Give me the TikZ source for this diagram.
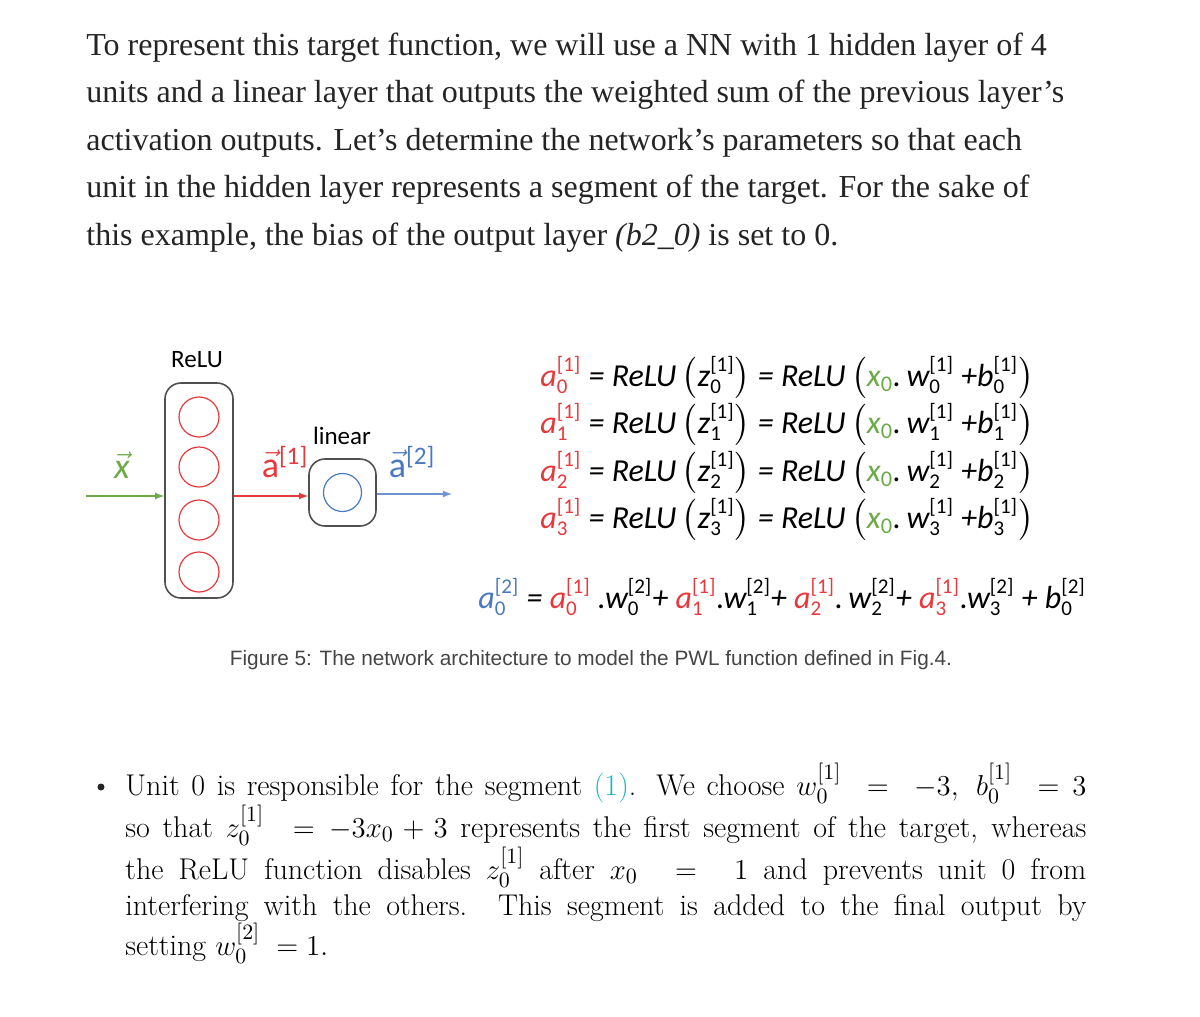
\documentclass[tikz,border=0pt]{standalone}
\usepackage{amsmath}
\usepackage{fontspec}
\newfontfamily\calf{Carlito}
\newfontfamily\bodyf{Liberation Serif}
\newfontfamily\capf{Liberation Sans}
\definecolor{rd}{HTML}{E8383B}
\definecolor{gn}{HTML}{6BAA45}
\definecolor{bl}{HTML}{4A78C2}
\definecolor{tx}{HTML}{242424}
\definecolor{cy}{HTML}{1BB3C4}
\newcommand\SB[2]{${}^{\hbox{\fontsize{10.5}{10}\selectfont\upshape[#1]}}_{\hbox{\fontsize{10.5}{10}\selectfont\upshape #2}}$}
\begin{document}
\begin{tikzpicture}[x=0.5pt,y=-0.5pt,
 para/.style={anchor=base west,inner sep=0,text=tx,font=\bodyf\fontsize{16}{18}\selectfont},
 eq/.style={anchor=base west,inner sep=0,font=\calf\itshape\fontsize{16}{18}\selectfont},
 lab/.style={inner sep=0,font=\calf\fontsize{12.5}{14}\selectfont},
 bul/.style={anchor=base west,inner sep=0,font=\fontsize{15}{17}\selectfont}]
\useasboundingbox (0,0) rectangle (1200,1017);
\node[para] (p1) at (86,55) {To represent this target function, we will use a NN with 1 hidden layer of 4};
\node[para] (p2) at (86,102) {units and a linear layer that outputs the weighted sum of the previous layer’s};
\node[para] (p3) at (86,150) {activation outputs. Let’s determine the network’s parameters so that each};
\node[para] (p4) at (86,197) {unit in the hidden layer represents a segment of the target. For the sake of};
\node[para] (p5) at (86,245) {this example, the bias of the output layer \textit{(b2\_0)} is set to 0.};
% diagram
\node[lab] (relu) at (197,360) {ReLU};
\node[draw=tx!80,rounded corners=8pt,line width=0.8pt,minimum width=34pt,minimum height=107.5pt,inner sep=0] (hb) at (199,490.5) {};
\foreach \i/\yy in {0/417,1/467,2/520,3/572}
  \node[circle,draw=rd,line width=0.6pt,minimum size=20pt,inner sep=0] (u\i) at (199,\yy) {};
\node[draw=tx!80,rounded corners=8pt,line width=0.8pt,minimum size=33.5pt,inner sep=0] (lb) at (342.5,492.5) {};
\node[circle,draw=bl,line width=0.6pt,minimum size=19pt,inner sep=0] (lo) at (342.5,492.5) {};
\node[lab] (lin) at (342,436) {linear};
\coordinate (xin) at (86,496);
\coordinate (aout) at (452,494);
\draw[gn,-latex,line width=0.6pt] (xin) -- (hb.west|-xin);
\draw[rd,-latex,line width=0.6pt] (hb.east|-xin) -- (lb.west|-xin);
\draw[bl!80,-latex,line width=0.6pt] (lb.east|-aout) -- (aout);
\node[lab,text=gn,font=\calf\fontsize{18}{18}\selectfont] (xl) at (122,465) {$\vec{\hbox{\calf\itshape x}}$};
\node[lab,text=rd,font=\calf\fontsize{18}{18}\selectfont] (a1) at (285,462) {$\vec{\hbox{\calf a}}$\textsuperscript{[1]}};
\node[lab,text=bl,font=\calf\fontsize{18}{18}\selectfont] (a2) at (412,462) {$\vec{\hbox{\calf a}}$\textsuperscript{[2]}};
% equations
\foreach \i/\yy in {0/386,1/433,2/481,3/528}
  \node[eq] (e\i) at (540,\yy) {\textcolor{rd}{a\SB{1}{\i}} = ReLU\,$\bigl($z\SB{1}{\i}$\bigr)$ = ReLU\,$\bigl($\textcolor{gn}{x\textsubscript{\upshape 0}}.\,w\SB{1}{\i} +b\SB{1}{\i}$\bigr)$};
\node[eq] (e4) at (478,608) {\textcolor{bl}{a\SB{2}{0}} = \textcolor{rd}{a\SB{1}{0}} .w\SB{2}{0}+ \textcolor{rd}{a\SB{1}{1}}.w\SB{2}{1}+ \textcolor{rd}{a\SB{1}{2}}.\,w\SB{2}{2}+ \textcolor{rd}{a\SB{1}{3}}.w\SB{2}{3} + b\SB{2}{0}};
\node[inner sep=0,text=tx!85,font=\capf\fontsize{10.4}{12}\selectfont] (cap) at (591,660) {Figure 5: The network architecture to model the PWL function defined in Fig.4.};
% bullet
\node[circle,fill=tx,inner sep=0,minimum size=3.5pt] (dot) at (101,787) {};
\node[bul] (b1) at (125,795) {\hbox to 480.5pt{Unit 0 is responsible for the segment \textcolor{cy}{(1)}. We choose $w_0^{[1]}\;=\;-3,\;b_0^{[1]}\;=3$}};
\node[bul] (b2) at (125,837) {\hbox to 480.5pt{so that $z_0^{[1]}\;=-3x_0+3$ represents the first segment of the target, whereas}};
\node[bul] (b3) at (125,879) {\hbox to 480.5pt{the ReLU function disables $z_0^{[1]}$ after $x_0\;=\;1$ and prevents unit 0 from}};
\node[bul] (b4) at (125,915) {\hbox to 480.5pt{interfering with the others. This segment is added to the final output by}};
\node[bul] (b5) at (125,955) {setting $w_0^{[2]}\;=1.$};
\end{tikzpicture}
\end{document}
